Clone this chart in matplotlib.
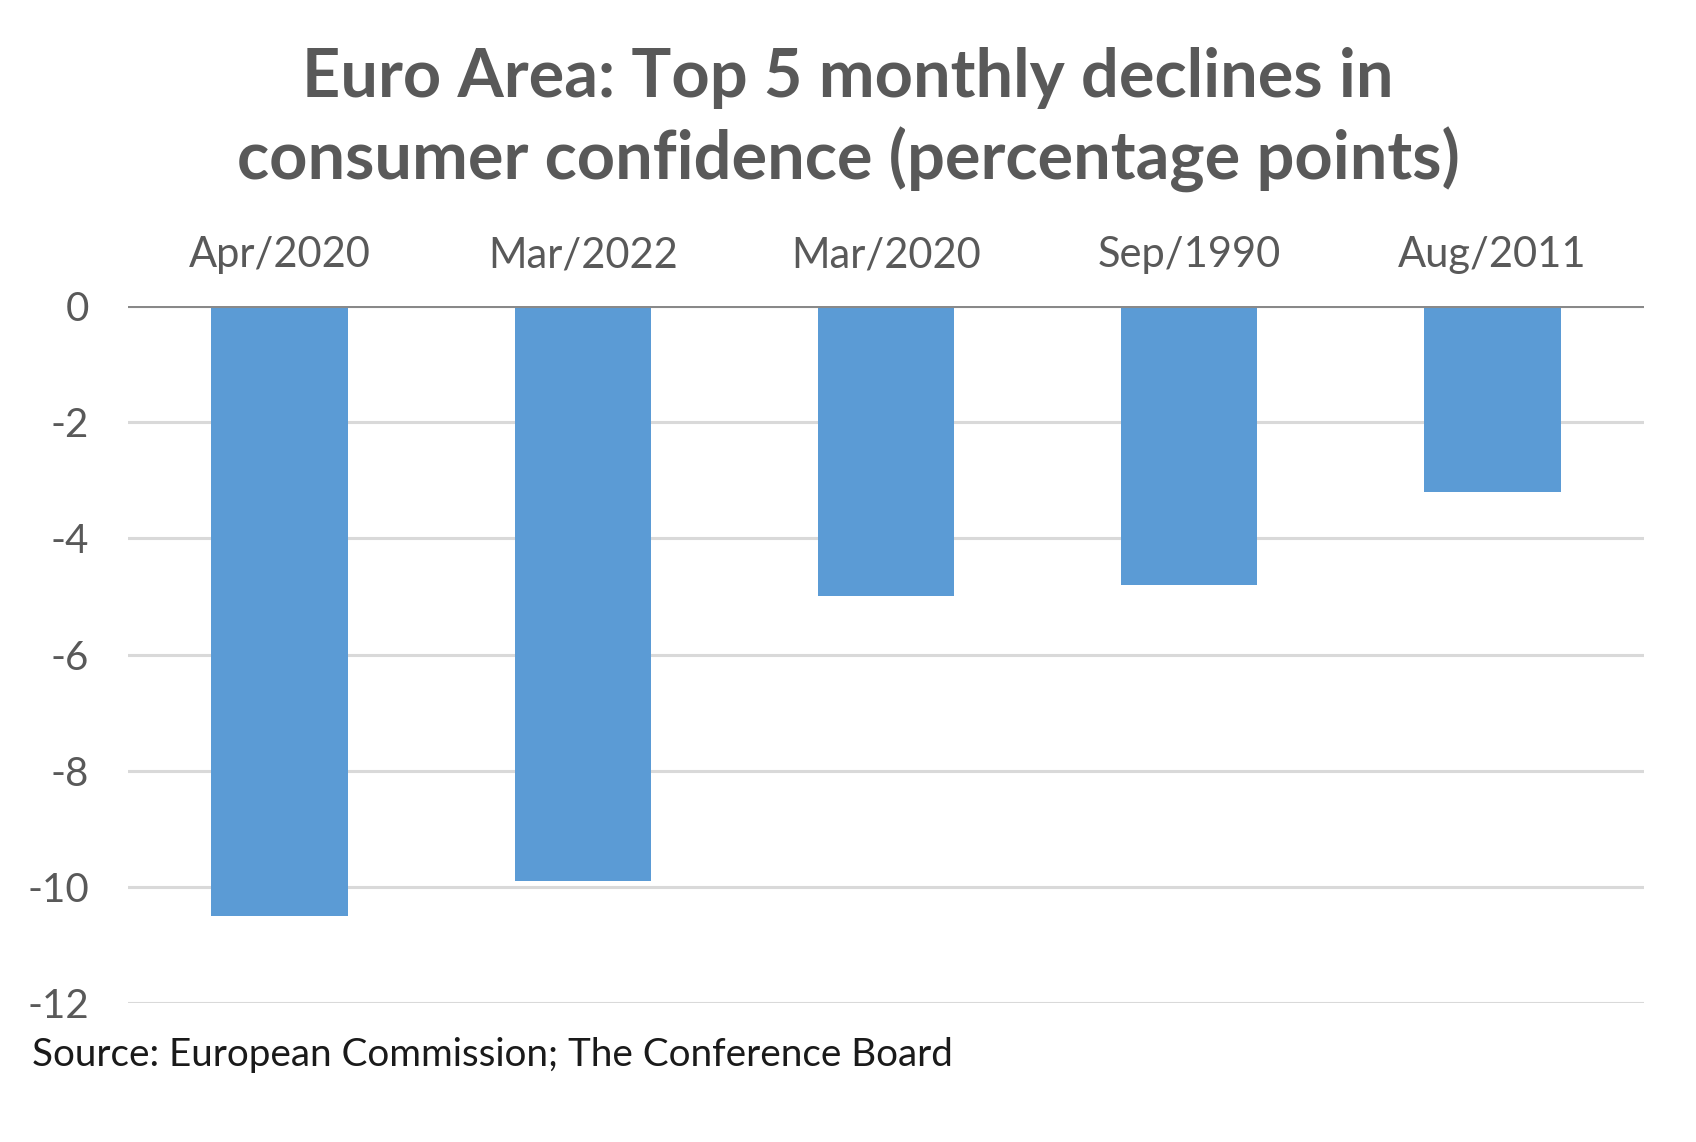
import matplotlib.pyplot as plt
import numpy as np

plt.rcParams['font.family'] = ['Lato', 'DejaVu Sans']

months = ["Apr/2020", "Mar/2022", "Mar/2020", "Sep/1990", "Aug/2011"]
declines = [-10.5, -9.9, -5.0, -4.8, -3.2]
yticks = [0, -2, -4, -6, -8, -10, -12]

fig = plt.figure(figsize=(16.96, 11.42), dpi=100)
ax = fig.add_axes([0.0755, 0.1217, 0.8938, 0.6103])

x = np.arange(len(months))
ax.bar(x, declines, width=0.45, color="#5B9BD5", zorder=3)

ax.set_xlim(-0.5, len(months) - 0.5)
ax.set_ylim(-12, 0)
ax.set_yticks(yticks)
ax.set_yticklabels([str(v) for v in yticks])
ax.yaxis.grid(True, color="#d9d9d9", linewidth=2.2, zorder=0)
ax.axhline(0, color="#898989", linewidth=2.2, zorder=4)

ax.xaxis.tick_top()
ax.set_xticks(x)
ax.set_xticklabels(months)
ax.tick_params(axis="x", length=0, pad=23, labelsize=30, labelcolor="#595959")
ax.tick_params(axis="y", length=0, pad=28, labelsize=29, labelcolor="#595959")
for s in ax.spines.values():
    s.set_visible(False)

fig.text(0.5, 0.895, "Euro Area: Top 5 monthly declines in\nconsumer confidence (percentage points)",
         ha="center", va="center", fontsize=48, fontweight="bold", color="#595959",
         linespacing=1.35)
fig.text(0.019, 0.076, "Source: European Commission; The Conference Board",
         ha="left", va="center", fontsize=27.8, color="#1a1a1a")

fig.savefig("out.png", dpi=100)
